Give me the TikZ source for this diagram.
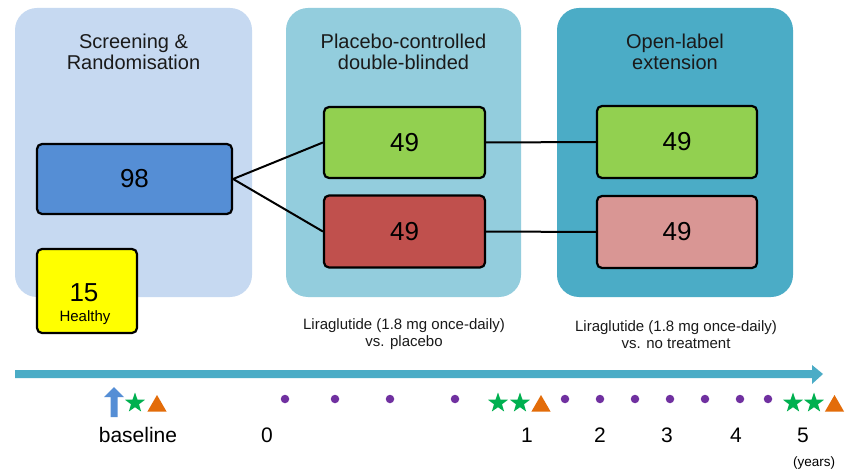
\documentclass[tikz,border=0pt]{standalone}
\usepackage{fontspec}
\setmainfont{Liberation Sans}
\usetikzlibrary{shapes.geometric}
\definecolor{panelA}{HTML}{C6D9F1}
\definecolor{panelB}{HTML}{93CDDD}
\definecolor{panelC}{HTML}{4BACC6}
\definecolor{boxblue}{HTML}{558ED5}
\definecolor{boxgreen}{HTML}{92D050}
\definecolor{boxred}{HTML}{C0504D}
\definecolor{boxpink}{HTML}{D99694}
\definecolor{boxyellow}{HTML}{FFFF00}
\definecolor{barc}{HTML}{4BACC6}
\definecolor{starc}{HTML}{00B050}
\definecolor{tric}{HTML}{E36C09}
\definecolor{dotc}{HTML}{7030A0}
\definecolor{txt}{HTML}{1A1A1A}
\begin{document}
\begin{tikzpicture}[x=1pt,y=-1pt,
  panel/.style={fill=#1, draw=none, rounded corners=22pt, minimum height=289pt, inner sep=0pt},
  grpbox/.style={draw=black, line width=2.2pt, fill=#1, rounded corners=5pt, inner sep=0pt},
  ttl/.style={align=center, text=txt, font=\fontsize{20}{21}\selectfont, inner sep=0pt},
  num/.style={text=black, font=\fontsize{26}{28}\selectfont, inner sep=0pt},
  captxt/.style={align=center, text=txt, font=\fontsize{15}{17}\selectfont, inner sep=0pt},
  ticktxt/.style={text=black, font=\fontsize{21}{23}\selectfont, inner sep=0pt},
  link/.style={line width=2pt, black},
  dot/.style={circle, fill=dotc, minimum size=8.5pt, inner sep=0pt},
  gstar/.style={star, star points=5, star point ratio=2.5, fill=starc, minimum size=21pt, inner sep=0pt},
  otri/.style={regular polygon, regular polygon sides=3, fill=tric, minimum size=22pt, inner sep=0pt},
]
\useasboundingbox[fill=white] (0,0) rectangle (851,473);

% panels
\node[panel=panelA, minimum width=237pt] (p1) at (133.5,152.5) {};
\node[panel=panelB, minimum width=235pt] (p2) at (403.5,152.5) {};
\node[panel=panelC, minimum width=236pt] (p3) at (675,152.5) {};

% titles
\node[ttl] (t1) at (133.5,51.5) {Screening \&\\Randomisation};
\node[ttl] (t2) at (403.5,51.5) {Placebo-controlled\\double-blinded};
\node[ttl] (t3) at (675,51.5) {Open-label\\extension};

% boxes
\node[grpbox=boxblue, minimum width=195pt, minimum height=70pt] (n98) at (134.5,179) {};
\node[num] (n98t) at (n98) {98};
\node[grpbox=boxgreen, minimum width=161pt, minimum height=71pt] (g1) at (404.5,142.5) {};
\node[num] (g1t) at (g1) {49};
\node[grpbox=boxred, minimum width=161pt, minimum height=72pt] (r1) at (404.5,231.5) {};
\node[num] (r1t) at (r1) {49};
\node[grpbox=boxgreen, minimum width=160pt, minimum height=72pt] (g2) at (677,142) {};
\node[num] (g2t) at (g2) {49};
\node[grpbox=boxpink, minimum width=160pt, minimum height=72pt] (r2) at (677,232) {};
\node[num] (r2t) at (r2) {49};
\node[grpbox=boxyellow, minimum width=100pt, minimum height=84pt] (y15) at (87,291) {};
\node[num] (y15t) at (84,293) {15};
\node[text=black, font=\fontsize{15}{17}\selectfont, inner sep=0pt] (y15h) at (85,318) {Healthy};

% connectors
\draw[link] (n98.east) -- (g1.west);
\draw[link] (n98.east) -- (r1.west);
\draw[link] (g1.east) -- (g2.west);
\draw[link] (r1.east) -- (r2.west);

% captions
\node[captxt] (c1) at (404,334.5) {Liraglutide (1.8 mg once-daily)\\vs. placebo};
\node[captxt] (c2) at (676,334.5) {Liraglutide (1.8 mg once-daily)\\vs. no treatment};

% timeline bar
\fill[barc] (15,370) -- (812,370) -- (812,365) -- (823,374) -- (812,384) -- (812,378) -- (15,378) -- cycle;

% baseline arrow
\fill[boxblue] (110.5,417) -- (117.5,417) -- (117.5,397) -- (124,397) -- (114,387) -- (104,397) -- (110.5,397) -- cycle;

% stars
\node[gstar] (s0) at (135,403) {};
\node[gstar] (s1a) at (498,403) {};
\node[gstar] (s1b) at (520,403) {};
\node[gstar] (s5a) at (793,403) {};
\node[gstar] (s5b) at (814,403) {};

% triangles
\node[otri] (tr0) at (157,406) {};
\node[otri] (tr1) at (541,406) {};
\node[otri] (tr5) at (834.5,406) {};

% dots
\foreach \x [count=\i] in {285,335,390,455,565,600,635,670,705,740,768}
  \node[dot] (d\i) at (\x,399) {};

% axis labels
\node[ticktxt] (lb) at (138,435) {baseline};
\node[ticktxt] (l0) at (267,435) {0};
\node[ticktxt] (l1) at (527,435) {1};
\node[ticktxt] (l2) at (600,435) {2};
\node[ticktxt] (l3) at (667,435) {3};
\node[ticktxt] (l4) at (736,435) {4};
\node[ticktxt] (l5) at (803,435) {5};
\node[text=black, font=\fontsize{13.5}{15}\selectfont, inner sep=0pt] (ly) at (814,463) {(years)};
\end{tikzpicture}
\end{document}
